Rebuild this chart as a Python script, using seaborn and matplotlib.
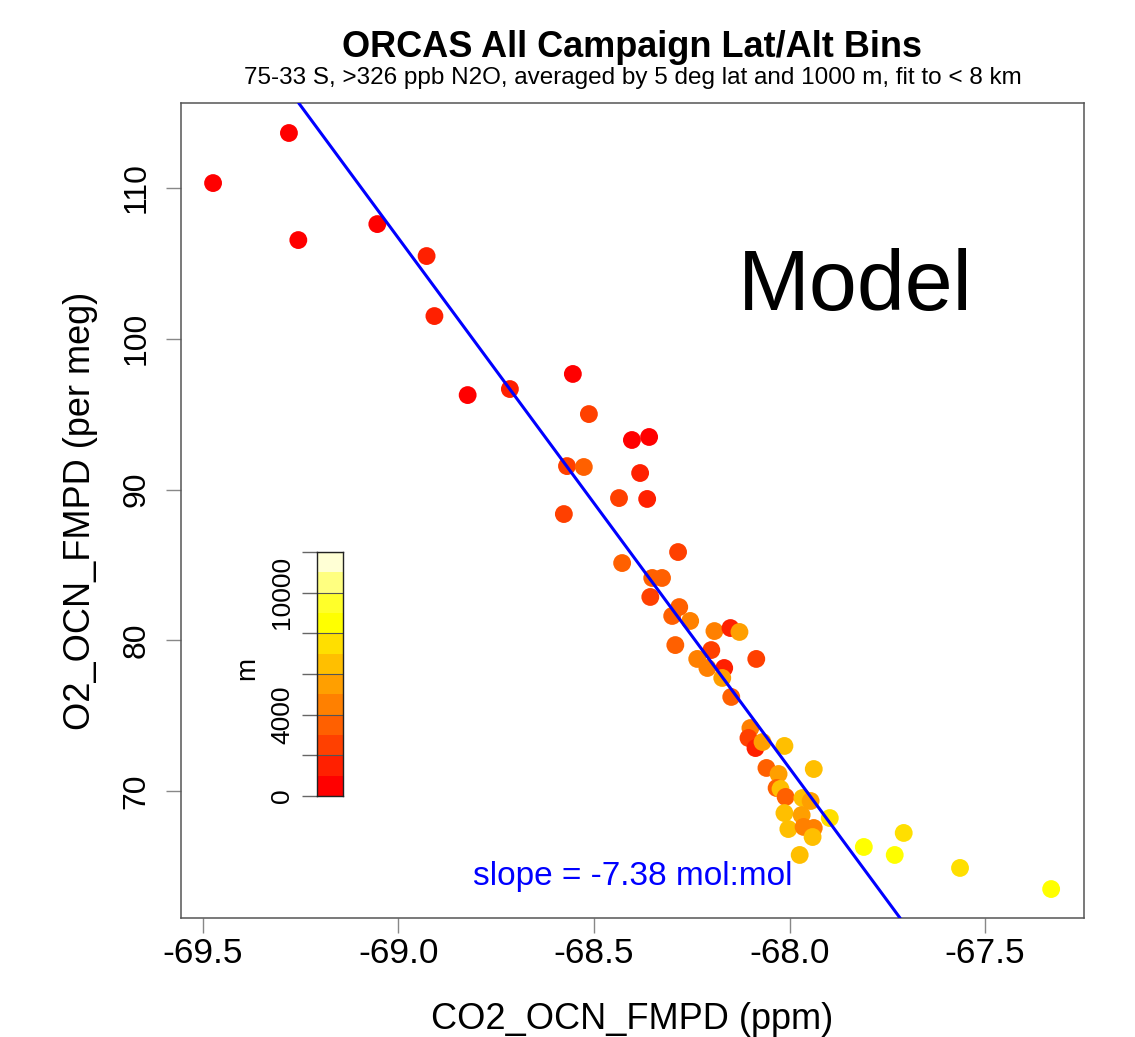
import matplotlib
matplotlib.use("Agg")
import matplotlib.pyplot as plt
import pandas as pd
import seaborn as sns

# ---------------- data ----------------
co2 = [-69.474, -69.280, -69.256, -69.054, -68.928, -68.908, -68.823, -68.715,
       -68.554, -68.513, -68.403, -68.359, -68.382, -68.569, -68.526, -68.577,
       -68.436, -68.364, -68.285, -68.428, -68.351, -68.326, -68.356, -68.282,
       -68.300, -68.254, -68.192, -68.151, -68.128, -68.292, -68.200, -68.236,
       -68.210, -68.167, -68.172, -68.085, -68.149, -68.100, -68.105, -68.087,
       -68.069, -68.013, -67.938, -68.059, -68.028, -68.033, -68.023, -68.010,
       -67.967, -67.946, -68.013, -67.969, -67.897, -68.003, -67.964, -67.938,
       -67.941, -67.974, -67.810, -67.708, -67.731, -67.564, -67.331]
o2 = [110.33, 113.65, 106.55, 107.61, 105.49, 101.51, 96.27, 96.67,
      97.67, 95.01, 93.29, 93.49, 91.10, 91.56, 91.50, 88.38,
      89.44, 89.38, 85.86, 85.13, 84.14, 84.14, 82.88, 82.21,
      81.62, 81.29, 80.62, 80.82, 80.56, 79.69, 79.36, 78.77,
      78.17, 78.17, 77.51, 78.77, 76.25, 74.19, 73.53, 72.86,
      73.26, 73.00, 71.47, 71.54, 71.14, 70.21, 70.15, 69.62,
      69.55, 69.35, 68.55, 68.42, 68.22, 67.49, 67.63, 67.56,
      66.96, 65.77, 66.30, 67.23, 65.77, 64.91, 63.51]
alt_m = [500, 500, 500, 500, 1500, 1500, 500, 1500,
         500, 2500, 500, 500, 1500, 2500, 3500, 2500,
         2500, 1500, 2500, 3500, 3500, 3500, 2500, 3500,
         3500, 4500, 4500, 1500, 5500, 3500, 2500, 4500,
         4500, 1500, 5500, 2500, 3500, 4500, 2500, 1500,
         5500, 6500, 6500, 3500, 5500, 3500, 6500, 3500,
         6500, 5500, 6500, 5500, 7500, 6500, 4500, 4500,
         6500, 6500, 8500, 7500, 8500, 7500, 8500]

heat_colors = ["#FF0000", "#FF2000", "#FF4000", "#FF6000", "#FF8000", "#FF9F00",
               "#FFBF00", "#FFDF00", "#FFFF00", "#FFFF2A", "#FFFF80", "#FFFFD5"]
alt_bin_bottoms = [0, 1000, 2000, 3000, 4000, 5000, 6000, 7000, 8000, 9000, 10000, 11000]
alt_bin_size = 1000
cb_ticks = [0, 2000, 4000, 6000, 8000, 10000, 12000]
cb_ticklabels = ["0", "", "4000", "", "", "10000", ""]

x_ticks = [-69.5, -69.0, -68.5, -68.0, -67.5]
y_ticks = [70, 80, 90, 100, 110]

fit_slope = -35.15          # per meg / ppm
fit_x0, fit_y0 = -68.5, 89.10

title = "ORCAS All Campaign Lat/Alt Bins"
subtitle = "75-33 S, >326 ppb N2O, averaged by 5 deg lat and 1000 m, fit to < 8 km"
xlabel = "CO2_OCN_FMPD (ppm)"
ylabel = "O2_OCN_FMPD (per meg)"
slope_text = "slope = -7.38 mol:mol"
panel_text = "Model"

# ---------------- style ----------------
sns.set_style("white")
plt.rcParams["font.family"] = ["Liberation Sans", "DejaVu Sans"]
plt.rcParams["axes.unicode_minus"] = False
plt.rcParams["text.color"] = "black"
plt.rcParams["xtick.labelcolor"] = "black"
plt.rcParams["ytick.labelcolor"] = "black"
plt.rcParams["axes.labelcolor"] = "black"

W, H = 1135, 1037
fig = plt.figure(figsize=(W / 100, H / 100), dpi=100)
ax = fig.add_axes([181 / W, 1 - 918 / H, 903 / W, 815 / H])

df = pd.DataFrame({"co2": co2, "o2": o2, "alt": alt_m})
palette = {a: heat_colors[int(a // alt_bin_size)] for a in sorted(set(alt_m))}

sns.scatterplot(data=df, x="co2", y="o2", hue="alt", palette=palette,
                s=165, linewidth=0, legend=False, ax=ax, zorder=3)

ax.axline((fit_x0, fit_y0), slope=fit_slope, color="#0000FF", lw=2.2, zorder=4)

ax.set_xlim(-69.556, -67.247)
ax.set_ylim(61.59, 115.64)
ax.set_xticks(x_ticks, labels=[f"{v:.1f}" for v in x_ticks])
ax.set_yticks(y_ticks, labels=[str(v) for v in y_ticks])
ax.set_xlabel("")
ax.set_ylabel("")

for sp in ax.spines.values():
    sp.set_color("#555555")
    sp.set_linewidth(1.1)

ax.tick_params(axis="x", length=10.5, width=1.0, color="#888888",
               labelsize=25.5, pad=3, direction="out", bottom=True)
ax.tick_params(axis="y", length=10.5, width=1.0, color="#888888",
               labelsize=23, pad=11, direction="out", left=True, labelrotation=90)
plt.setp(ax.get_yticklabels(), va="center")

ax.text(0.617, 0.746, panel_text, transform=ax.transAxes, fontsize=62,
        ha="left", va="baseline", color="black")
ax.text(0.5, 0.0405, slope_text, transform=ax.transAxes, fontsize=24,
        ha="center", va="baseline", color="#0000FF")

# titles and axis labels
fig.text(632.5 / W, 1 - 57 / H, title, fontsize=26, fontweight="bold",
         ha="center", va="baseline")
fig.text(632.5 / W, 1 - 84 / H, subtitle, fontsize=17.5, ha="center", va="baseline")
fig.text(632.5 / W, 1 - 1029 / H, xlabel, fontsize=26, ha="center", va="baseline")
fig.text(80 / W, 1 - 510.5 / H, ylabel, fontsize=26, ha="center", va="center",
         rotation=90)

# colour key (drawn as stacked bins)
cax = fig.add_axes([317 / W, 1 - 796 / H, 26 / W, 244 / H])
cax.bar(x=[0.5] * len(alt_bin_bottoms), height=alt_bin_size, bottom=alt_bin_bottoms,
        width=1.0, color=heat_colors, linewidth=0, align="center")
cax.set_xlim(0, 1)
cax.set_ylim(alt_bin_bottoms[0], alt_bin_bottoms[-1] + alt_bin_size)
cax.set_xticks([])
cax.set_yticks(cb_ticks, labels=cb_ticklabels)
for sp in cax.spines.values():
    sp.set_color("#222222")
    sp.set_linewidth(1.0)
cax.tick_params(axis="y", which="major", length=10.5, width=1.0, color="#666666",
                labelsize=19, pad=6, labelrotation=90, left=True, right=False)
plt.setp(cax.get_yticklabels(), va="center")
for v in cb_ticks:
    cax.axhline(v, color="#555555", lw=0.8)
fig.text(247 / W, 1 - 668 / H, "m", fontsize=20, ha="center", va="center",
         rotation=90)

fig.savefig("out.png", dpi=100)
